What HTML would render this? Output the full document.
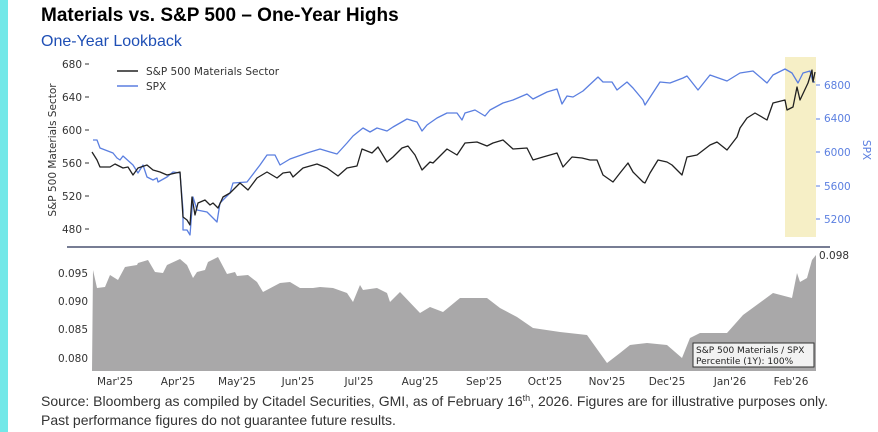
<!DOCTYPE html>
<html><head><meta charset="utf-8"><style>
html,body{margin:0;padding:0;background:#fff;}
body{width:878px;height:432px;overflow:hidden;position:relative;font-family:"Liberation Sans",sans-serif;}
</style></head><body>
<svg width="878" height="432" viewBox="0 0 878 432" xmlns="http://www.w3.org/2000/svg" style="position:absolute;left:0;top:0">
<rect x="0" y="0" width="8" height="432" fill="#72e8e8"/>
<text x="41" y="21" font-family="Liberation Sans" font-weight="bold" font-size="19" fill="#000">Materials vs. S&amp;P 500 – One-Year Highs</text>
<text x="41" y="46" font-family="Liberation Sans" font-size="16" fill="#1f4fb5">One-Year Lookback</text>

<rect x="785" y="57" width="31" height="180" fill="#f6efc6"/>

<g font-family="DejaVu Sans" font-size="10.5" fill="#333">
<text x="82" y="68" text-anchor="end">680</text>
<text x="82" y="101" text-anchor="end">640</text>
<text x="82" y="134" text-anchor="end">600</text>
<text x="82" y="167" text-anchor="end">560</text>
<text x="82" y="200" text-anchor="end">520</text>
<text x="82" y="233" text-anchor="end">480</text>
</g>
<g stroke="#333" stroke-width="1">
<line x1="85" y1="64" x2="89" y2="64"/><line x1="85" y1="97" x2="89" y2="97"/><line x1="85" y1="130" x2="89" y2="130"/><line x1="85" y1="163" x2="89" y2="163"/><line x1="85" y1="196" x2="89" y2="196"/><line x1="85" y1="229" x2="89" y2="229"/>
</g>
<text transform="translate(56,150) rotate(-90)" text-anchor="middle" font-family="DejaVu Sans" font-size="10.5" fill="#333">S&amp;P 500 Materials Sector</text>

<g font-family="DejaVu Sans" font-size="10.5" fill="#5b7fe0">
<text x="824" y="89">6800</text>
<text x="824" y="122">6400</text>
<text x="824" y="156">6000</text>
<text x="824" y="190">5600</text>
<text x="824" y="223">5200</text>
<text transform="translate(863,150) rotate(90)" text-anchor="middle">SPX</text>
</g>
<g stroke="#5b7fe0"><line x1="816" y1="85" x2="820" y2="85"/><line x1="816" y1="119" x2="820" y2="119"/><line x1="816" y1="152" x2="820" y2="152"/><line x1="816" y1="186" x2="820" y2="186"/><line x1="816" y1="219" x2="820" y2="219"/></g>

<line x1="117" y1="71" x2="138" y2="71" stroke="#222" stroke-width="1.5"/>
<text x="146" y="75" font-family="DejaVu Sans" font-size="10.5" fill="#333">S&amp;P 500 Materials Sector</text>
<line x1="117" y1="86" x2="138" y2="86" stroke="#5b7fe0" stroke-width="1.5"/>
<text x="146" y="90" font-family="DejaVu Sans" font-size="10.5" fill="#333">SPX</text>

<polyline fill="none" stroke="#5b7fe0" stroke-width="1.3" stroke-linejoin="round" points="93,140 97,140 100,148 113,153 117,158 120,160 123,156 133,165 138,173 143,165 147,177 153,180 157,178 158,182 167,177 173,172 180,173 183,210 183,230 187,230 190,235 193,197 197,210 207,212 217,222 220,203 230,193 233,183 247,182 260,165 267,155 275,155 280,165 290,159 307,153 320,149 330,152 337,154 347,143 353,136 363,128 370,132 377,128 387,131 393,127 407,119 417,122 422,131 427,125 437,118 447,113 457,113 462,120 465,113 475,110 485,116 490,110 503,103 513,100 527,94 533,99 547,92 557,89 562,104 567,96 573,97 583,91 598,77 603,82 612,82 617,90 627,82 633,88 643,100 645,105 660,82 670,83 683,78 687,76 698,90 710,75 727,81 740,73 753,71 767,83 773,75 785,69 792,73 798,83 803,73 810,71 813,82 815,82"/>
<polyline fill="none" stroke="#222" stroke-width="1.3" stroke-linejoin="round" points="92,152 97,160 100,167 110,167 115,164 123,168 128,167 133,175 138,168 147,165 153,170 160,172 167,175 180,172 183,217 187,220 190,225 192,197 195,215 198,203 205,200 210,205 213,203 218,208 223,197 230,193 240,183 248,190 257,178 267,172 277,178 283,173 290,172 293,177 303,168 317,164 327,168 338,176 347,168 357,166 362,149 372,153 378,147 387,162 393,157 402,148 408,146 415,155 422,170 430,162 433,163 447,149 457,155 465,143 477,142 487,146 493,143 503,140 513,149 527,148 533,160 543,157 557,153 563,167 572,157 582,158 590,160 597,160 603,175 613,182 620,173 628,163 633,172 643,182 645,183 650,173 658,160 667,162 672,165 682,175 687,157 697,155 710,145 717,142 727,150 737,137 740,128 747,118 755,113 767,120 773,103 785,100 787,110 793,107 797,87 800,100 808,83 812,70 813,82 815,72"/>

<line x1="67" y1="247" x2="830" y2="247" stroke="#4a5270" stroke-width="1.5"/>

<polygon fill="#a9a8a9" points="92,371 93,270 97,288 105,287 110,275 118,280 125,267 137,265 138,263 148,260 155,272 163,273 167,265 180,259 187,265 193,278 197,272 205,270 208,262 218,257 227,274 235,272 237,276 248,275 257,282 263,292 280,283 290,282 300,288 313,288 320,287 333,288 347,293 353,302 360,285 363,290 377,288 387,293 390,302 400,292 420,313 430,307 443,312 460,298 487,298 500,308 517,317 533,328 560,332 587,335 607,363 620,353 630,345 647,343 667,345 682,358 690,338 700,333 727,333 743,315 773,293 792,298 797,273 800,282 807,278 812,260 816,255 816,371"/>

<g font-family="DejaVu Sans" font-size="10.5" fill="#333">
<text x="88" y="277" text-anchor="end">0.095</text>
<text x="88" y="305" text-anchor="end">0.090</text>
<text x="88" y="333" text-anchor="end">0.085</text>
<text x="88" y="362" text-anchor="end">0.080</text>
<text x="819" y="259">0.098</text>
<text x="115" y="385" text-anchor="middle">Mar'25</text>
<text x="178" y="385" text-anchor="middle">Apr'25</text>
<text x="237" y="385" text-anchor="middle">May'25</text>
<text x="298" y="385" text-anchor="middle">Jun'25</text>
<text x="359" y="385" text-anchor="middle">Jul'25</text>
<text x="420" y="385" text-anchor="middle">Aug'25</text>
<text x="484" y="385" text-anchor="middle">Sep'25</text>
<text x="545" y="385" text-anchor="middle">Oct'25</text>
<text x="607" y="385" text-anchor="middle">Nov'25</text>
<text x="667" y="385" text-anchor="middle">Dec'25</text>
<text x="730" y="385" text-anchor="middle">Jan'26</text>
<text x="791" y="385" text-anchor="middle">Feb'26</text>
</g>
<rect x="693" y="343" width="121" height="24" fill="#f2f2f2" stroke="#333" stroke-width="1"/>
<text x="696" y="353" font-family="DejaVu Sans" font-size="9" fill="#222">S&amp;P 500 Materials / SPX</text>
<text x="696" y="364" font-family="DejaVu Sans" font-size="9" fill="#222">Percentile (1Y): 100%</text>

<text x="41" y="406" font-family="Liberation Sans" font-size="14" fill="#333">Source: Bloomberg as compiled by Citadel Securities, GMI, as of February 16<tspan font-size="9" dy="-5">th</tspan><tspan dy="5">, 2026. Figures are for illustrative purposes only.</tspan></text>
<text x="41" y="425" font-family="Liberation Sans" font-size="14" fill="#333">Past performance figures do not guarantee future results.</text>
</svg>
</body></html>
